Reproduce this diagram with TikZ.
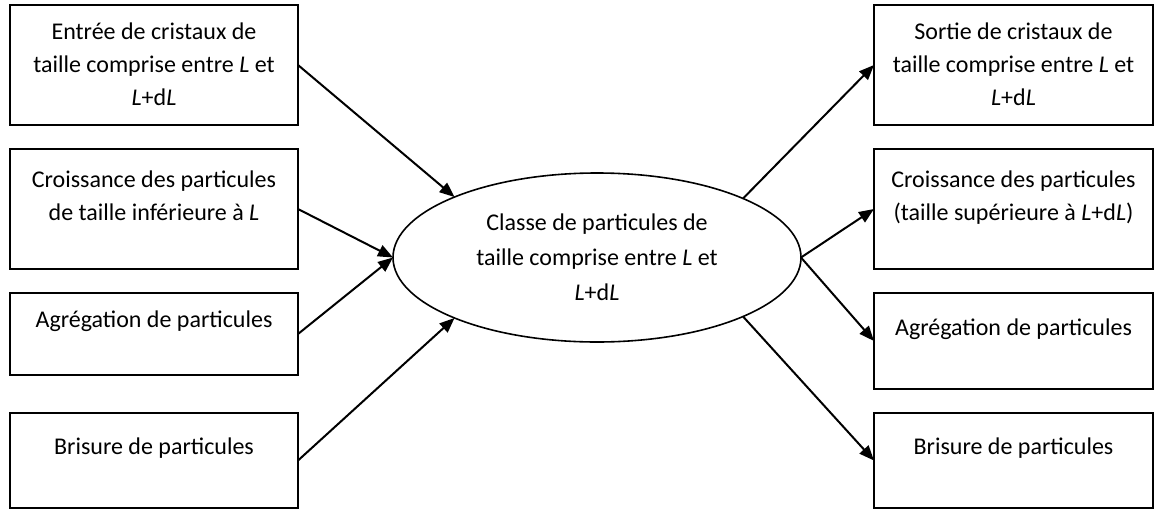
\documentclass[tikz,border=0pt]{standalone}
\usepackage{fontspec}
\setmainfont{Carlito}
\usetikzlibrary{arrows.meta,shapes.geometric}
\begin{document}
\begin{tikzpicture}[x=0.5pt,y=-0.5pt,
  box/.style={draw, line width=1pt, inner sep=0pt, outer sep=0pt},
  lbox/.style={box, minimum width=144pt},
  rbox/.style={box, minimum width=139.5pt},
  txt/.style={anchor=north, align=center, inner sep=0pt, font=\fontsize{12}{16.5}\selectfont},
  conn/.style={line width=1pt, -{Triangle[length=7.5pt,width=6pt]}}]
\useasboundingbox (0,0) rectangle (1155,509);
% left boxes
\node[lbox, minimum height=60pt] (L1) at (154,65) {};
\node[lbox, minimum height=60pt] (L2) at (154,209) {};
\node[lbox, minimum height=41pt] (L3) at (154,334) {};
\node[lbox, minimum height=47.5pt] (L4) at (154,460.5) {};
% right boxes
\node[rbox, minimum height=60pt] (R1) at (1013.5,65) {};
\node[rbox, minimum height=60pt] (R2) at (1013.5,209) {};
\node[rbox, minimum height=48pt] (R3) at (1013.5,341) {};
\node[rbox, minimum height=47.5pt] (R4) at (1013.5,460.5) {};
% texts
\node[txt] (L1t) at (154,16) {\strut Entrée de cristaux de\\taille comprise entre \textit{L} et\\\textit{L}+d\textit{L}};
\node[txt] (L2t) at (154,164) {\strut Croissance des particules\\de taille inférieure à \textit{L}};
\node[txt] (L3t) at (154,304) {\strut Agrégation de particules};
\node[txt] (L4t) at (154,431) {\strut Brisure de particules};
\node[txt] (R1t) at (1013.5,16) {\strut Sortie de cristaux de\\taille comprise entre \textit{L} et\\\textit{L}+d\textit{L}};
\node[txt] (R2t) at (1013.5,164) {\strut Croissance des particules\\(taille supérieure à \textit{L}+d\textit{L})};
\node[txt] (R3t) at (1013.5,312) {\strut Agrégation de particules};
\node[txt] (R4t) at (1013.5,431) {\strut Brisure de particules};
% ellipse
\node[draw, ellipse, minimum width=204pt, minimum height=84.5pt, inner sep=0pt, outer sep=0pt, line width=0.8pt, align=center, font=\fontsize{12}{17.5}\selectfont] (E) at (597,257.5) {Classe de particules de\\taille comprise entre \textit{L} et\\\textit{L}+d\textit{L}};
% connectors
\draw[conn] (L1.east) -- (E.157.7);
\draw[conn] (L2.east) -- (E.west);
\draw[conn] (L3.east) -- (E.west);
\draw[conn] (L4.east) -- (E.-157.7);
\draw[conn] (E.22.3) -- (R1.west);
\draw[conn] (E.east) -- (R2.west);
\draw[conn] (E.east) -- (R3.west);
\draw[conn] (E.-22.3) -- (R4.west);
\end{tikzpicture}
\end{document}
